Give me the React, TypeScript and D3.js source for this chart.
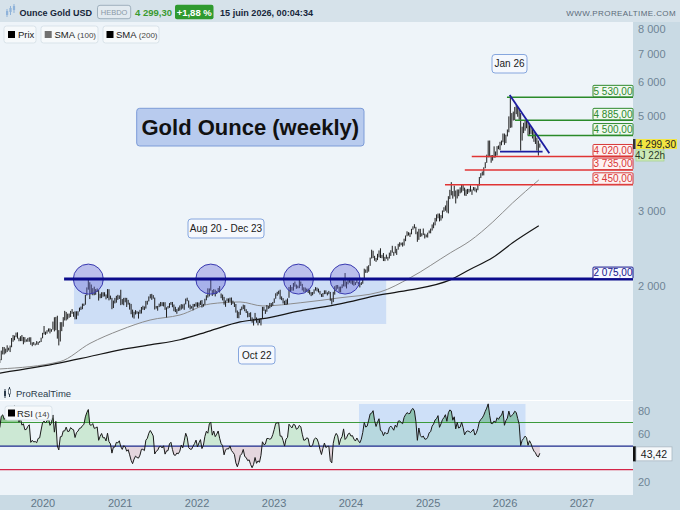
import React from "react";
import * as d3 from "d3";

type Bar = [number, number, number]; // high, low, close

// Weekly bars (high, low, close), each year starting on its first Monday
const yearStarts = ["2019-01-07", "2020-01-06", "2021-01-04", "2022-01-03", "2023-01-02", "2024-01-01", "2025-01-06", "2026-01-05"];

const w2019: Bar[] = [
  [1298,1279,1288],[1297,1276,1282],[1303,1276,1298],[1326,1297,1318],
  [1326,1303,1314],[1327,1302,1322],[1346,1320,1328],[1334,1290,1293],
  [1300,1280,1298],[1311,1290,1302],[1320,1298,1312],[1324,1281,1292],
  [1300,1280,1291],[1310,1281,1291],[1295,1266,1275],[1290,1266,1286],[1288,1267,1280],
  [1290,1278,1285],[1304,1273,1277],[1290,1266,1284],[1306,1275,1305],
  [1347,1305,1341],[1348,1320,1341],[1411,1340,1399],[1439,1382,1409],
  [1438,1382,1399],[1426,1390,1415],[1452,1400,1426],[1433,1412,1419],[1450,1400,1440],
  [1510,1437,1497],[1535,1480,1513],[1530,1492,1527],[1555,1517,1520],
  [1557,1505,1507],[1512,1484,1488],[1525,1485,1517],[1535,1485,1497],[1519,1460,1505],
  [1517,1475,1488],[1499,1480,1490],[1511,1480,1505],[1516,1480,1514],
  [1516,1456,1459],[1475,1445,1468],[1478,1456,1462],[1466,1451,1464],
  [1485,1457,1460],[1479,1455,1476],[1485,1472,1478],[1513,1478,1511],[1553,1508,1552],
];
const w2020: Bar[] = [
  [1611,1540,1562],[1563,1536,1557],[1575,1546,1571],[1590,1563,1589],
  [1591,1548,1570],[1584,1562,1584],[1650,1580,1643],[1689,1565,1585],
  [1692,1575,1674],[1703,1505,1530],[1576,1451,1498],[1645,1482,1617],[1645,1567,1620],
  [1690,1605,1683],[1748,1660,1683],[1738,1660,1729],[1722,1670,1700],
  [1723,1684,1702],[1748,1691,1743],[1765,1721,1734],[1739,1693,1730],
  [1744,1670,1684],[1744,1671,1730],[1745,1704,1743],[1779,1742,1771],[1789,1757,1775],
  [1818,1764,1798],[1818,1795,1810],[1907,1807,1902],[1984,1900,1975],
  [2075,1960,2035],[2040,1863,1944],[2015,1911,1940],[1976,1902,1964],[1992,1902,1934],
  [1966,1907,1940],[1973,1936,1950],[1956,1848,1862],[1917,1871,1900],
  [1933,1873,1930],[1933,1887,1899],[1933,1890,1902],[1910,1860,1879],
  [1966,1873,1951],[1965,1850,1889],[1898,1860,1871],[1875,1764,1788],[1848,1775,1839],
  [1875,1820,1840],[1896,1827,1881],[1906,1855,1877],[1900,1864,1895],
];
const w2021: Bar[] = [
  [1959,1803,1850],[1863,1809,1828],[1875,1802,1856],[1876,1831,1847],
  [1875,1785,1814],[1855,1808,1824],[1826,1760,1784],[1815,1717,1734],
  [1760,1687,1700],[1740,1677,1727],[1755,1714,1745],[1745,1721,1733],[1740,1677,1728],
  [1758,1721,1744],[1785,1723,1777],[1797,1759,1777],[1790,1756,1769],
  [1845,1770,1831],[1846,1808,1844],[1890,1840,1881],[1913,1870,1903],[1916,1855,1891],
  [1903,1867,1877],[1878,1761,1764],[1795,1770,1781],[1795,1750,1787],
  [1818,1784,1808],[1834,1791,1812],[1832,1794,1802],[1832,1790,1814],
  [1832,1758,1763],[1782,1687,1780],[1795,1770,1781],[1823,1777,1818],[1834,1806,1827],
  [1834,1783,1788],[1809,1745,1754],[1787,1737,1750],[1765,1721,1761],
  [1781,1746,1757],[1800,1750,1768],[1813,1760,1796],[1810,1770,1783],
  [1818,1758,1818],[1868,1811,1864],[1877,1842,1846],[1849,1778,1792],[1808,1762,1783],
  [1793,1770,1783],[1815,1753,1798],[1815,1788,1811],[1830,1790,1829],
];
const w2022: Bar[] = [
  [1831,1782,1797],[1829,1790,1818],[1848,1805,1835],[1853,1780,1791],[1815,1788,1808],
  [1866,1806,1860],[1902,1851,1898],[1974,1878,1889],[1973,1890,1970],
  [2070,1950,1988],[1955,1895,1921],[1966,1910,1958],[1960,1890,1925],
  [1946,1915,1946],[1978,1940,1975],[1998,1930,1932],[1920,1872,1897],
  [1909,1850,1883],[1885,1808,1811],[1849,1787,1846],[1870,1840,1853],[1870,1828,1851],
  [1877,1836,1871],[1879,1805,1840],[1847,1816,1827],[1830,1785,1812],
  [1814,1732,1742],[1752,1681,1703],[1739,1680,1727],[1767,1711,1766],
  [1789,1754,1775],[1808,1765,1802],[1803,1745,1747],[1764,1728,1738],[1745,1688,1712],
  [1729,1691,1716],[1735,1654,1675],[1688,1640,1644],[1675,1615,1660],
  [1729,1660,1695],[1687,1640,1644],[1673,1617,1657],[1675,1638,1645],[1681,1616,1681],
  [1786,1673,1771],[1786,1748,1751],[1760,1720,1755],[1804,1740,1797],
  [1794,1767,1797],[1825,1773,1793],[1823,1785,1798],[1834,1797,1824],
];
const w2023: Bar[] = [
  [1870,1825,1865],[1922,1866,1921],[1937,1896,1926],[1949,1912,1928],[1959,1861,1865],
  [1890,1852,1865],[1873,1819,1842],[1846,1805,1811],[1857,1804,1856],
  [1870,1810,1868],[1989,1876,1989],[2009,1934,1978],[1989,1949,1969],
  [2032,1950,2007],[2048,1992,2004],[2015,1969,1983],[2003,1975,1990],
  [2081,1976,2017],[2048,2000,2011],[2022,1952,1977],[1985,1937,1946],[1983,1932,1948],
  [1971,1938,1961],[1971,1925,1958],[1958,1910,1921],[1934,1893,1919],
  [1935,1902,1925],[1963,1917,1955],[1987,1950,1962],[1982,1942,1959],[1971,1930,1943],
  [1947,1910,1914],[1916,1885,1889],[1925,1884,1915],[1953,1913,1940],
  [1953,1914,1919],[1932,1900,1924],[1947,1913,1925],[1936,1846,1848],
  [1868,1810,1833],[1937,1833,1932],[1997,1908,1981],[2009,1953,2006],[2010,1970,1993],
  [1992,1931,1940],[1993,1932,1981],[2017,1976,2002],[2075,1995,2072],
  [2144,1993,2004],[2047,1973,2019],[2071,2017,2053],[2088,2035,2063],
];
const w2024: Bar[] = [
  [2078,2024,2045],[2062,2013,2049],[2062,2002,2029],[2041,2010,2018],[2065,2030,2039],
  [2042,2015,2024],[2031,1984,2013],[2041,2010,2035],[2088,2024,2083],
  [2195,2079,2179],[2185,2146,2155],[2223,2146,2165],[2236,2160,2233],
  [2330,2229,2330],[2431,2319,2344],[2418,2324,2392],[2352,2291,2337],[2326,2277,2301],
  [2378,2298,2360],[2422,2333,2415],[2450,2325,2334],[2365,2322,2327],
  [2388,2287,2294],[2339,2286,2333],[2368,2316,2322],[2339,2293,2326],
  [2393,2319,2391],[2424,2351,2411],[2483,2393,2400],[2403,2353,2386],[2477,2385,2443],
  [2443,2364,2431],[2510,2432,2507],[2531,2471,2512],[2525,2491,2503],
  [2529,2472,2497],[2580,2486,2578],[2625,2546,2622],[2685,2614,2658],[2672,2624,2653],
  [2665,2604,2657],[2721,2642,2721],[2758,2708,2747],[2790,2729,2736],
  [2750,2643,2685],[2680,2537,2563],[2721,2564,2715],[2721,2605,2650],
  [2657,2613,2633],[2726,2631,2648],[2652,2583,2622],[2639,2599,2621],[2665,2596,2640],
];
const w2025: Bar[] = [
  [2697,2656,2690],[2725,2656,2702],[2786,2696,2770],[2817,2730,2798],
  [2886,2772,2861],[2942,2832,2882],[2955,2880,2936],[2956,2832,2858],
  [2930,2845,2910],[3004,2880,2984],[3057,2982,3022],[3087,3000,3084],[3168,2971,3037],
  [3245,2957,3237],[3358,3194,3327],[3500,3260,3319],[3336,3202,3240],
  [3435,3240,3325],[3345,3120,3202],[3365,3205,3357],[3365,3245,3289],
  [3403,3295,3310],[3446,3310,3432],[3452,3340,3368],[3398,3255,3274],[3365,3248,3337],
  [3375,3283,3355],[3375,3310,3350],[3439,3325,3337],[3365,3268,3363],
  [3409,3348,3397],[3405,3330,3336],[3380,3311,3372],[3452,3351,3448],
  [3599,3436,3586],[3674,3578,3643],[3707,3627,3685],[3791,3630,3760],[3897,3773,3886],
  [4059,3884,4018],[4380,4000,4250],[4381,4004,4113],[4050,3886,4002],
  [4050,3931,4000],[4245,3990,4085],[4130,4000,4065],[4250,4040,4220],
  [4265,4180,4200],[4350,4160,4300],[4380,4270,4340],[4550,4340,4530],[4550,4280,4330],
];
const w2026: Bar[] = [
  [4520,4320,4500],[4650,4480,4600],[4990,4580,4980],[5600,4690,4880],
  [5080,4700,4950],[5120,4880,5030],[5250,4890,5200],[5300,5050,5180],
  [5250,4980,5080],[5180,4900,4980],[5080,4150,4480],[4720,4380,4650],[4820,4560,4720],
  [4880,4620,4800],[4890,4680,4760],[4840,4500,4560],[4760,4520,4700],
  [4730,4540,4620],[4670,4430,4500],[4600,4350,4400],[4540,4300,4350],
  [4450,4150,4250],[4380,4040,4220],[4310,4215,4299.3],
];

// Moving averages at sample dates
const smaDates = ["2019-06-10","2020-03-22","2020-08-11","2021-01-01","2021-05-23","2021-10-12","2022-03-04","2022-07-24","2022-11-09","2023-05-05","2023-11-10","2024-05-18","2024-10-08","2025-04-16","2025-07-18","2025-11-04","2026-02-06","2026-06-10"];
const sma100 = [1278,1330,1467,1576,1664,1710,1815,1834,1795,1826,1876,1936,2090,2390,2548,2824,3130,3541];
const sma200 = [1250,1320,1367,1416,1455,1496,1570,1647,1676,1748,1815,1906,1957,2066,2185,2330,2523,2765];

const priceTicks = [2000, 3000, 5000, 6000, 7000, 8000];
const rsiTicks = [20, 60, 80];
const yearTicks = [2020, 2021, 2022, 2023, 2024, 2025, 2026, 2027];

const greenLevels = [5530, 4885, 4500];
const greenStarts = ["2026-01-10", "2026-02-17", "2026-04-19"];
const redLevels = [4020, 3735, 3450];
const redStarts = ["2025-07-27", "2025-06-24", "2025-03-22"];
const keyLevel = 2075;
const keyStart = "2020-04-10";
const rangeBox = { from: "2020-05-27", to: "2024-06-16", top: 2075, bottom: 1629 };
const circleDates = ["2020-08-03", "2022-03-07", "2023-04-27", "2023-12-04"];
const trendLine = { from: "2026-01-23", p0: 5600, to: "2026-07-30", p1: 4090 };
const baseLine = { from: "2025-12-08", to: "2026-06-28", p: 4127 };
const rsiBox = { from: "2024-02-08", to: "2026-04-08", top: 85.7, bottom: 50 };
const lastPrice = 4299.3;
const lastRsi = 43.42;
const changePct = "+1,88 %";

const D = (s: string) => new Date(s + "T00:00:00Z");
const loc = d3.formatLocale({ decimal: ",", thousands: " ", grouping: [3], currency: ["", ""] });
const f2 = loc.format(",.2f");
const f0 = loc.format(",.0f");

const W = 680, H = 510;
const PX = 633; // plot right edge
const FONT = "Arial, 'Liberation Sans', Helvetica, sans-serif";

const x = d3.scaleUtc().domain([D("2020-01-01"), D("2027-01-01")]).range([43, 582]);
const y = d3.scaleLog().domain([1081, 8302]).range([400, 22]);
const yR = d3.scaleLinear().domain([0, 100]).range([505.1, 387.1]);

const allYears = [w2019, w2020, w2021, w2022, w2023, w2024, w2025, w2026];
const bars = allYears.flatMap((arr, k) =>
  arr.map((b, i) => ({ date: new Date(D(yearStarts[k]).getTime() + i * 7 * 864e5), high: b[0], low: b[1], close: b[2] }))
);

function wilderRsi(c: number[], n = 14): (number | null)[] {
  const out: (number | null)[] = c.map(() => null);
  let g = 0, l = 0;
  for (let i = 1; i <= n; i++) { const d = c[i] - c[i - 1]; if (d > 0) g += d; else l -= d; }
  g /= n; l /= n;
  out[n] = 100 - 100 / (1 + g / l);
  for (let i = n + 1; i < c.length; i++) {
    const d = c[i] - c[i - 1];
    g = (g * (n - 1) + Math.max(d, 0)) / n;
    l = (l * (n - 1) + Math.max(-d, 0)) / n;
    out[i] = l === 0 ? 100 : 100 - 100 / (1 + g / l);
  }
  return out;
}
const rsiVals = wilderRsi(bars.map((b) => b.close));
type RP = { date: Date; v: number };
const rsiPts: RP[] = bars.map((b, i) => ({ date: b.date, v: rsiVals[i] as number })).filter((p) => p.v != null);

const barPath = bars.map((b) => { const xx = x(b.date); return `M${xx.toFixed(2)},${y(b.high).toFixed(2)}V${y(b.low).toFixed(2)}`; }).join("");

type SP = { date: Date; v: number };
const smaLine = d3.line<SP>().x((p) => x(p.date)).y((p) => y(p.v)).curve(d3.curveMonotoneX);
const s100 = smaLine(smaDates.map((s, i) => ({ date: D(s), v: sma100[i] }))) || "";
const s200 = smaLine(smaDates.map((s, i) => ({ date: D(s), v: sma200[i] }))) || "";

const rsiLine = d3.line<RP>().x((p) => x(p.date)).y((p) => yR(p.v))(rsiPts) || "";
const area50 = d3.area<RP>().x((p) => x(p.date)).y0(yR(50)).y1((p) => yR(p.v))(rsiPts) || "";
const area70 = d3.area<RP>().x((p) => x(p.date)).y0(yR(70)).y1((p) => yR(p.v))(rsiPts) || "";

function LevelLabel({ p, stroke, text, fill }: { p: number; stroke: string; text: string; fill: string }) {
  const yy = y(p);
  return (
    <g>
      <rect x={593} y={yy - 12} width={40} height={11.5} fill={fill} stroke={stroke} strokeWidth={1} rx={1} />
      <text x={613} y={yy - 2.8} textAnchor="middle" fontSize={10} fill={stroke} fontFamily={FONT}>{text}</text>
    </g>
  );
}

function NoteBox({ x0, y0, w, h, text }: { x0: number; y0: number; w: number; h: number; text: string }) {
  return (
    <g>
      <rect x={x0} y={y0} width={w} height={h} rx={3} fill="#f5f8fd" stroke="#86a6de" strokeWidth={1} />
      <text x={x0 + w / 2} y={y0 + h / 2 + 3.6} textAnchor="middle" fontSize={10} fill="#1a1a1a" fontFamily={FONT}>{text}</text>
    </g>
  );
}

export default function App() {
  const rb = rangeBox;
  return (
    <div style={{ position: "absolute", left: 0, top: 0 }}>
      <svg width={W} height={H} viewBox={`0 0 ${W} ${H}`} style={{ display: "block" }}>
        <defs>
          <clipPath id="mainClip"><rect x={0} y={22} width={PX} height={378} /></clipPath>
          <clipPath id="rsiClip"><rect x={0} y={401} width={PX} height={94} /></clipPath>
          <clipPath id="ab50"><rect x={0} y={380} width={PX} height={yR(50) - 380} /></clipPath>
          <clipPath id="be50"><rect x={0} y={yR(50)} width={PX} height={520 - yR(50)} /></clipPath>
          <clipPath id="ab70"><rect x={0} y={380} width={PX} height={yR(70) - 380} /></clipPath>
        </defs>

        {/* backgrounds */}
        <rect x={0} y={0} width={W} height={H} fill="#eef4f9" />
        <rect x={PX} y={22} width={W - PX} height={H - 22} fill="#c9dae4" />
        <rect x={0} y={495} width={W} height={15} fill="#c9dae4" />
        <line x1={0} x2={PX} y1={400.5} y2={400.5} stroke="#ffffff" strokeWidth={1.2} />

        {/* main panel */}
        <g clipPath="url(#mainClip)">
          <rect x={x(D(rb.from))} y={y(rb.top)} width={x(D(rb.to)) - x(D(rb.from))} height={y(rb.bottom) - y(rb.top)} fill="rgba(140,178,240,0.33)" />
          <path d={s100} fill="none" stroke="#8c8c8c" strokeWidth={1} />
          <path d={s200} fill="none" stroke="#151515" strokeWidth={1.2} />
          <path d={barPath} fill="none" stroke="#1e1e1e" strokeWidth={1} />
          {circleDates.map((s) => (
            <circle key={s} cx={x(D(s))} cy={y(keyLevel)} r={15} fill="rgba(105,105,215,0.38)" stroke="#3a3ab0" strokeWidth={1} />
          ))}
          <line x1={x(D(keyStart))} x2={PX} y1={y(keyLevel)} y2={y(keyLevel)} stroke="#0b0b8c" strokeWidth={3} />
          {redLevels.map((p, i) => (
            <line key={p} x1={x(D(redStarts[i]))} x2={PX} y1={y(p)} y2={y(p)} stroke="#e03434" strokeWidth={1.5} />
          ))}
          {greenLevels.map((p, i) => (
            <line key={p} x1={x(D(greenStarts[i]))} x2={PX} y1={y(p)} y2={y(p)} stroke="#2a8a2a" strokeWidth={1.5} />
          ))}
          <line x1={x(D(trendLine.from))} y1={y(trendLine.p0)} x2={x(D(trendLine.to))} y2={y(trendLine.p1)} stroke="#1c1ca0" strokeWidth={1.8} />
          <line x1={x(D(baseLine.from))} y1={y(baseLine.p)} x2={x(D(baseLine.to))} y2={y(baseLine.p)} stroke="#1c1ca0" strokeWidth={1.8} />
        </g>

        {/* level labels */}
        {greenLevels.map((p) => <LevelLabel key={p} p={p} stroke="#2e8a2e" fill="#f1f9f1" text={f2(p)} />)}
        {redLevels.map((p) => <LevelLabel key={p} p={p} stroke="#d83838" fill="#fdf2f2" text={f2(p)} />)}
        <LevelLabel p={keyLevel} stroke="#14148c" fill="#f6f8ff" text={f2(keyLevel)} />

        {/* annotations */}
        <rect x={136.7} y={108.3} width={227.3} height={37.7} rx={3} fill="#b8cbee" stroke="#7c9bd8" strokeWidth={1} />
        <text x={250.3} y={134.5} textAnchor="middle" fontSize={22} fontWeight="bold" fill="#111" fontFamily={FONT}>Gold Ounce (weekly)</text>
        <NoteBox x0={188} y0={219} w={76} h={19} text="Aug 20 - Dec 23" />
        <NoteBox x0={238.5} y0={346} w={36.5} h={18} text="Oct 22" />
        <NoteBox x0={492} y0={54.5} w={35} h={18.5} text="Jan 26" />

        {/* legend */}
        <g fontFamily={FONT} fill="#1a1a1a">
          <rect x={4} y={26} width={32} height={17} rx={2.5} fill="#f6f9fb" stroke="#d9e3ea" />
          <rect x={8} y={31} width={7} height={7} fill="#000" />
          <text x={18} y={38.3} fontSize={9.5}>Prix</text>
          <rect x={41} y={26} width={57} height={17} rx={2.5} fill="#f6f9fb" stroke="#d9e3ea" />
          <rect x={44.7} y={31} width={7} height={7} fill="#707070" />
          <text x={54.5} y={38.3} fontSize={9.5}>SMA<tspan fontSize={8} fill="#444"> (100)</tspan></text>
          <rect x={103} y={26} width={56} height={17} rx={2.5} fill="#f6f9fb" stroke="#d9e3ea" />
          <rect x={106.5} y={31} width={7} height={7} fill="#000" />
          <text x={116} y={38.3} fontSize={9.5}>SMA<tspan fontSize={8} fill="#444"> (200)</tspan></text>
        </g>

        {/* ProRealTime logo */}
        <g>
          <line x1={5} x2={5} y1={389} y2={398} stroke="#2c3c4c" strokeWidth={1} />
          <rect x={4} y={391} width={2} height={5} fill="#2c3c4c" />
          <line x1={9.5} x2={9.5} y1={387} y2={397} stroke="#2c3c4c" strokeWidth={1} />
          <rect x={8.5} y={389} width={2} height={5} fill="#ffffff" stroke="#2c3c4c" strokeWidth={0.6} />
          <text x={16} y={397} fontSize={9.5} fill="#2b3b4b" fontFamily={FONT}>ProRealTime</text>
        </g>

        {/* RSI panel */}
        <g clipPath="url(#rsiClip)">
          <path d={area50} clipPath="url(#ab50)" fill="rgba(120,200,120,0.28)" />
          <path d={area70} clipPath="url(#ab70)" fill="rgba(70,165,70,0.45)" />
          <path d={area50} clipPath="url(#be50)" fill="rgba(205,135,155,0.28)" />
          <rect x={x(D(rsiBox.from))} y={yR(rsiBox.top)} width={x(D(rsiBox.to)) - x(D(rsiBox.from))} height={yR(rsiBox.bottom) - yR(rsiBox.top)} fill="rgba(140,185,245,0.32)" />
          <line x1={0} x2={PX} y1={yR(70)} y2={yR(70)} stroke="#3c9a3c" strokeWidth={1.2} />
          <line x1={0} x2={PX} y1={yR(50)} y2={yR(50)} stroke="#1c2a8c" strokeWidth={1.2} />
          <line x1={0} x2={PX} y1={yR(30)} y2={yR(30)} stroke="#d42448" strokeWidth={1.2} />
          <path d={rsiLine} fill="none" stroke="#1a1a1a" strokeWidth={1} />
        </g>
        <g fontFamily={FONT}>
          <rect x={5} y={406} width={47} height={14} rx={2.5} fill="#f6f9fb" stroke="#d9e3ea" />
          <rect x={8} y={409.5} width={7} height={7} fill="#000" />
          <text x={17} y={416.5} fontSize={9.5} fill="#1a1a1a">RSI<tspan fontSize={8} fill="#444"> (14)</tspan></text>
        </g>

        {/* header */}
        <rect x={0} y={0} width={W} height={22} fill="#d6e2ea" />
        <g>
          <line x1={7} x2={7} y1={9} y2={17} stroke="#8fb3da" />
          <rect x={6} y={11} width={2.2} height={4} fill="#8fb3da" />
          <line x1={10.5} x2={10.5} y1={6} y2={15} stroke="#8fb3da" />
          <rect x={9.4} y={8} width={2.2} height={4} fill="#8fb3da" />
          <line x1={14} x2={14} y1={4} y2={13} stroke="#8fb3da" />
          <rect x={12.9} y={6} width={2.2} height={4} fill="#8fb3da" />
        </g>
        <g fontFamily={FONT}>
          <text x={19.5} y={15.8} fontSize={9} fontWeight="bold" fill="#17263a">Ounce Gold USD</text>
          <rect x={97.5} y={5.3} width={33.2} height={13.4} rx={2.5} fill="#e2eaf0" stroke="#9fb0bd" />
          <text x={114.1} y={14.8} fontSize={7.5} fill="#8a99a6" textAnchor="middle">HEBDO</text>
          <text x={135} y={15.8} fontSize={9.5} fontWeight="bold" fill="#3a9a30">{f2(lastPrice)}</text>
          <rect x={175} y={4.8} width={38.5} height={14.4} rx={2} fill="#2f9a2f" />
          <text x={194.2} y={15.6} fontSize={9.5} fontWeight="bold" fill="#ffffff" textAnchor="middle">{changePct}</text>
          <text x={220} y={15.8} fontSize={9.5} fontWeight="bold" fill="#17263a" textLength={93} lengthAdjust="spacingAndGlyphs">15 juin 2026, 00:04:34</text>
          <text x={676} y={16} fontSize={8} fill="#5b6b79" textAnchor="end" letterSpacing={0.4}>WWW.PROREALTIME.COM</text>
        </g>

        {/* right axis */}
        <g fontFamily={FONT} fontSize={11} fill="#6f8596">
          {priceTicks.map((p) => <text key={p} x={638} y={y(p) + 4}>{f0(p)}</text>)}
          {rsiTicks.map((v) => <text key={v} x={638} y={yR(v) + 4}>{v}</text>)}
        </g>
        <rect x={633} y={y(lastPrice) - 5} width={2.5} height={10} fill="#333" />
        <rect x={636} y={y(lastPrice) - 5} width={41} height={10} fill="#f2e441" />
        <text x={656.5} y={y(lastPrice) + 3.6} textAnchor="middle" fontSize={10} fill="#222" fontFamily={FONT}>{f2(lastPrice)}</text>
        <rect x={636} y={y(lastPrice) + 6} width={28} height={11} fill="#cdeab8" stroke="#a9d391" strokeWidth={0.8} />
        <text x={650} y={y(lastPrice) + 15} textAnchor="middle" fontSize={10} fill="#2a3a2a" fontFamily={FONT}>4J 22h</text>
        <rect x={633} y={yR(lastRsi) - 7.5} width={3} height={15} fill="#111" />
        <rect x={636} y={yR(lastRsi) - 7} width={36} height={14} fill="#f6f9fb" stroke="#aab8c2" strokeWidth={0.8} />
        <text x={654} y={yR(lastRsi) + 3.8} textAnchor="middle" fontSize={10.5} fill="#1a1a1a" fontFamily={FONT}>{loc.format(".2f")(lastRsi)}</text>

        {/* bottom axis */}
        <g fontFamily={FONT} fontSize={11} fill="#627788" textAnchor="middle">
          {yearTicks.map((yr) => <text key={yr} x={x(D(`${yr}-01-01`))} y={506.5}>{yr}</text>)}
        </g>
      </svg>
    </div>
  );
}
